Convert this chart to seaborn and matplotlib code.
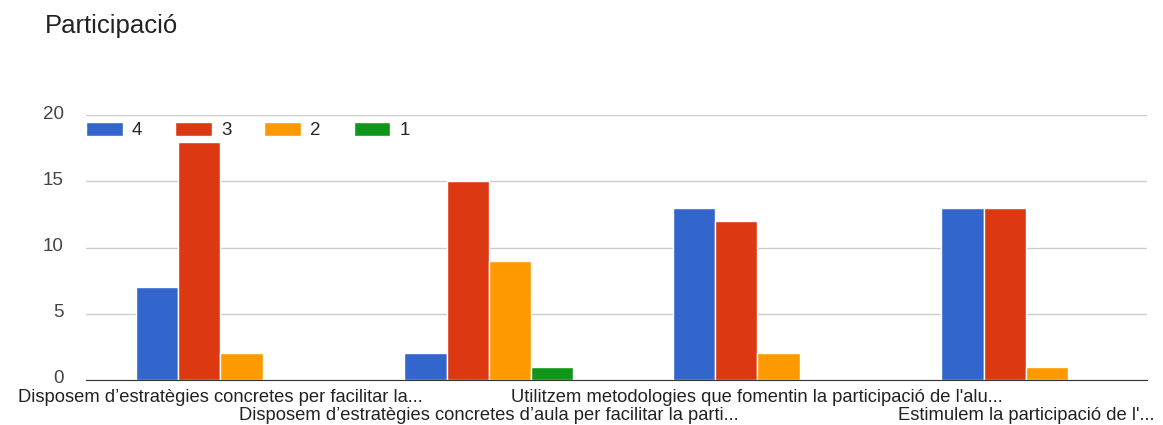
import pandas as pd
import matplotlib.pyplot as plt
import matplotlib.transforms as mtransforms
import seaborn as sns

# -------------------------------
# Data
# -------------------------------
TITLE = "Participació"
CATEGORIES = [
    "Disposem d’estratègies concretes per facilitar la...",
    "Disposem d’estratègies concretes d’aula per facilitar la parti...",
    "Utilitzem metodologies que fomentin la participació de l'alu...",
    "Estimulem la participació de l'...",
]
SERIES = ["4", "3", "2", "1"]
VALUES_4 = [7, 2, 13, 13]
VALUES_3 = [18, 15, 12, 13]
VALUES_2 = [2, 9, 2, 1]
VALUES_1 = [0, 1, 0, 0]
COLORS = ["#3366cc", "#dc3912", "#ff9900", "#109618"]
Y_TICKS = [0, 5, 10, 15, 20]

# -------------------------------
# Build long table
# -------------------------------
rows = []
for name, vals in zip(SERIES, [VALUES_4, VALUES_3, VALUES_2, VALUES_1]):
    for cat, v in zip(CATEGORIES, vals):
        rows.append({"category": cat, "series": name, "value": v})
df = pd.DataFrame(rows)

# -------------------------------
# Plot
# -------------------------------
sns.set_style("white")
plt.rcParams["font.family"] = ["Liberation Sans", "DejaVu Sans"]

fig = plt.figure(figsize=(11.63, 4.25), dpi=100)
ax = fig.add_axes([0.074, 0.106, 0.912, 0.623])

sns.barplot(data=df, x="category", y="value", hue="series",
            hue_order=SERIES, order=CATEGORIES, palette=COLORS,
            width=0.63, edgecolor="white", linewidth=1,
            saturation=1, ax=ax)

ax.set_ylim(0, 20)
ax.set_xlim(-0.5, len(CATEGORIES) - 0.55)
ax.set_yticks(Y_TICKS)
ax.yaxis.grid(True, color="#cccccc", linewidth=1)
ax.set_axisbelow(True)
for s in ["top", "right", "left"]:
    ax.spines[s].set_visible(False)
ax.spines["bottom"].set_color("#333333")
ax.tick_params(axis="y", length=0, labelsize=13.5, labelcolor="#444444", pad=16)
# nudge y labels up a little so "0" clears the category labels
shift = mtransforms.ScaledTranslation(0, 3 / 100, fig.dpi_scale_trans)
for lbl in ax.get_yticklabels():
    lbl.set_transform(lbl.get_transform() + shift)
ax.set_xlabel("")
ax.set_ylabel("")

# alternating two-row category labels
ax.set_xticks(range(len(CATEGORIES)))
ax.set_xticklabels([])
ax.tick_params(axis="x", length=0)
for i, cat in enumerate(CATEGORIES):
    y_off = -0.066 if i % 2 == 0 else -0.136
    ax.text(i, y_off, cat, transform=ax.get_xaxis_transform(),
            ha="center", va="center", fontsize=13.2, color="#222222",
            clip_on=False)

ax.legend(loc="upper left", bbox_to_anchor=(0.0, 0.975), ncol=4,
          frameon=False, fontsize=13.5, handlelength=1.95, handleheight=0.8,
          columnspacing=1.75, handletextpad=0.5, borderpad=0, borderaxespad=0)

fig.text(0.039, 0.94, TITLE, fontsize=18.5, color="#222222", ha="left", va="center")

fig.savefig("out.png", dpi=100)
